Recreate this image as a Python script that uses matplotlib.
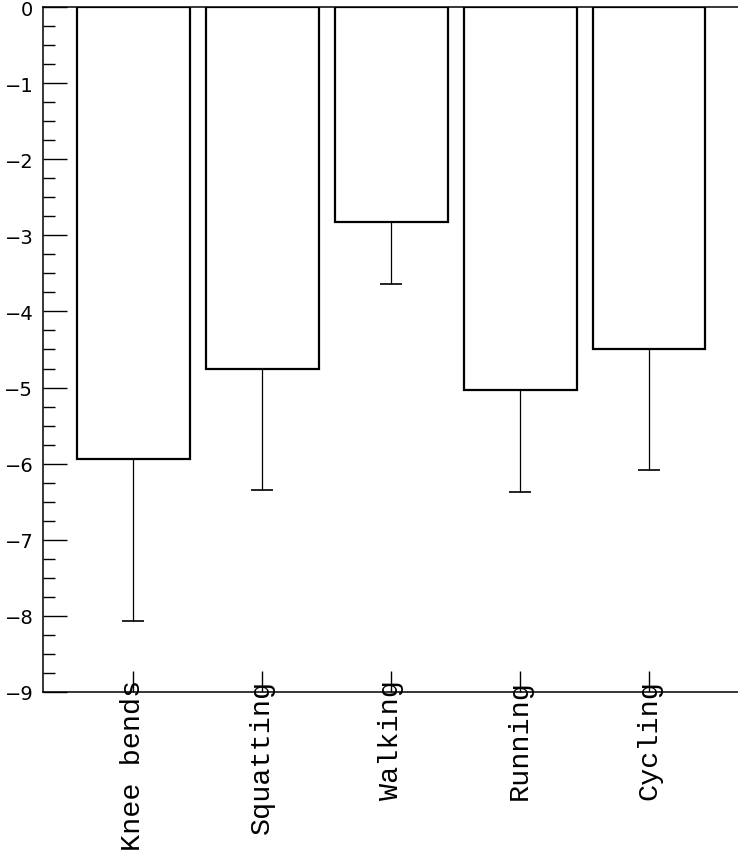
import numpy as np
import matplotlib.pyplot as plt
from matplotlib.ticker import MultipleLocator

# data to plot
activities = ['Knee bends', 'Squatting', 'Walking', 'Running', 'Cycling']
means = [-5.94, -4.76, -2.83, -5.03, -4.49]
errors = [2.13, 1.59, 0.81, 1.34, 1.59]

fig = plt.figure(figsize=(7.38, 8.53), dpi=100)
ax = fig.add_axes([0.0583, 0.1876, 0.9417, 0.8030])

index = np.arange(len(activities))
bar_width = 0.875

ax.bar(index, means, bar_width, color='white', edgecolor='black', linewidth=1.6)
ax.errorbar(index, means, yerr=[errors, np.zeros(len(errors))], fmt='none',
            ecolor='black', elinewidth=0.9, capsize=8, capthick=1.2)

ax.set_xlim(-0.70, 4.69)
ax.set_ylim(-9, 0)

ax.yaxis.set_major_locator(MultipleLocator(1))
ax.yaxis.set_minor_locator(MultipleLocator(0.25))
ax.tick_params(axis='y', which='major', direction='in', length=17, width=1.0,
               labelsize=14, pad=7)
ax.tick_params(axis='y', which='minor', direction='in', length=8.5, width=1.0)

ax.set_xticks(index)
ax.set_xticklabels(activities, rotation=90, family='Liberation Mono',
                   fontsize=20.5, va='top')
ax.tick_params(axis='x', direction='in', length=15, width=1.0, pad=-9.5)

for side in ['left', 'bottom', 'top']:
    ax.spines[side].set_linewidth(1.1)
ax.spines['right'].set_visible(False)

fig.savefig('out.png', dpi=100)
